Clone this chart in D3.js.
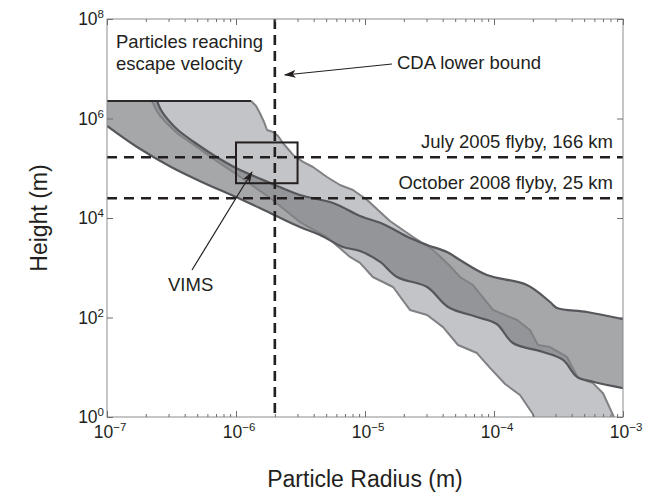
<!DOCTYPE html>
<html>
<head>
<meta charset="utf-8">
<script src="https://cdn.jsdelivr.net/npm/d3@7"></script>
<style>
  body { margin: 0; background: #fff; }
  svg { display: block; }
  text { font-family: "Liberation Sans", Arial, Helvetica, sans-serif; fill: #231f20; }
</style>
</head>
<body>
<svg id="chart" width="646" height="493"></svg>
<script>
// Height reached by a particle of given radius: two model bands (radius in m, height in m)
const escapeHeight = 2.25e6;

const lightUpperRadius = [1.31e-6, 1.43e-6, 1.53e-6, 1.65e-6, 1.74e-6, 1.94e-6, 2.12e-6, 2.31e-6, 2.77e-6, 3.31e-6,
  3.95e-6, 5.07e-6, 6.40e-6, 8.07e-6, 1.04e-5, 1.31e-5, 1.56e-5, 1.87e-5, 2.36e-5, 3.37e-5,
  4.56e-5, 5.45e-5, 6.87e-5, 9.82e-5, 1.51e-4, 1.90e-4, 2.19e-4, 2.72e-4, 3.68e-4, 4.48e-4,
  5.85e-4, 7.0e-4, 8.36e-4, 8.98e-4];
const lightUpperHeight = [2.25e6, 1.78e6, 1.29e6, 8.5e5, 5.87e5, 5.35e5, 4.45e5, 3.22e5, 1.85e5, 1.34e5,
  1.06e5, 6.67e4, 4.61e4, 3.66e4, 2.30e4, 1.32e4, 8.7e3, 6.3e3, 4.15e3, 2.28e3,
  1.08e3, 652, 450, 142, 89, 56, 28, 25.5, 16.1, 6.1,
  4.8, 3.0, 1.1, 0.69];

const lightLowerRadius = [2.23e-7, 2.36e-7, 2.58e-7, 2.92e-7, 3.55e-7, 4.72e-7, 6.87e-7, 1.0e-6, 1.84e-6, 3.13e-6,
  5.07e-6, 7.65e-6, 9.15e-6, 1.15e-5, 1.65e-5, 2.23e-5, 3.03e-5, 4.03e-5, 5.26e-5, 7.38e-5,
  9.31e-5, 1.22e-4, 1.59e-4, 2.0e-4, 2.15e-4];
const lightLowerHeight = [2.25e6, 1.63e6, 1.12e6, 7.9e5, 4.88e5, 2.93e5, 1.47e5, 7.66e4, 2.52e4, 8.3e3,
  4.15e3, 1.65e3, 1.25e3, 652, 410, 142, 112, 64, 28, 19.3,
  9.7, 4.6, 2.77, 1.15, 0.69];

const darkUpperRadius = [2.44e-7, 2.62e-7, 2.97e-7, 3.55e-7, 4.72e-7, 6.87e-7, 1.0e-6, 1.84e-6, 3.13e-6, 5.65e-6,
  9.15e-6, 1.38e-5, 2.23e-5, 3.03e-5, 4.32e-5, 5.45e-5, 8.82e-5, 1.80e-4, 2.72e-4, 3.08e-4,
  5.26e-4, 1.0e-3];
const darkUpperHeight = [2.25e6, 1.48e6, 9.5e5, 5.87e5, 3.37e5, 1.76e5, 1.01e5, 5.06e4, 2.90e4, 2.0e4,
  1.10e4, 7.57e3, 3.96e3, 2.87e3, 2.07e3, 1.43e3, 715, 450, 205, 155,
  129, 93];

const darkLowerRadius = [1.0e-7, 1.71e-7, 3.14e-7, 5.65e-7, 1.0e-6, 1.84e-6, 3.13e-6, 4.48e-6, 6.75e-6, 9.15e-6,
  1.31e-5, 1.77e-5, 3.03e-5, 4.40e-5, 7.38e-5, 1.05e-4, 1.40e-4, 2.40e-4, 3.43e-4, 4.40e-4,
  5.85e-4, 1.0e-3];
const darkLowerHeight = [7.1e5, 2.67e5, 1.06e5, 5.06e4, 2.64e4, 1.26e4, 6.59e3, 4.55e3, 2.61e3, 2.17e3,
  1.31e3, 652, 410, 163, 102, 74, 30.7, 20.3, 14.0, 6.4,
  5.1, 3.8];

// Reference lines and the VIMS window
const cdaRadius = 2e-6;
const flybyHeights = [1.66e5, 2.5e4];
const flybyLabels = ["July 2005 flyby, 166 km", "October 2008 flyby, 25 km"];
const vimsRadius = [1e-6, 3e-6];
const vimsHeight = [5e4, 3.3e5];

// Axis ticks
const xTickExponents = [-7, -6, -5, -4, -3];
const yTickExponents = [0, 2, 4, 6, 8];
const minorMultipliers = [2, 3, 4, 5, 6, 7, 8, 9];

const svg = d3.select("#chart");
const m = { left: 107, right: 623, top: 19, bottom: 417 };

const x = d3.scaleLog().domain([1e-7, 1e-3]).range([m.left, m.right]);
const y = d3.scaleLog().domain([1, 1e8]).range([m.bottom, m.top]);

const zip = (rs, hs) => rs.map((r, i) => [r, hs[i]]);
const lightUpper = zip(lightUpperRadius, lightUpperHeight);
const lightLower = zip(lightLowerRadius, lightLowerHeight);
const darkUpper = zip(darkUpperRadius, darkUpperHeight);
const darkLower = zip(darkLowerRadius, darkLowerHeight);

svg.append("defs").append("clipPath").attr("id", "plotClip")
  .append("rect").attr("x", m.left).attr("y", m.top)
  .attr("width", m.right - m.left).attr("height", m.bottom - m.top);

const plot = svg.append("g").attr("clip-path", "url(#plotClip)");

const jagged = d3.line().x(d => x(d[0])).y(d => y(d[1]));
const smooth = d3.line().x(d => x(d[0])).y(d => y(d[1])).curve(d3.curveCatmullRom.alpha(0.5));
const cont = p => p.replace(/^M/, "L");

// Light band
const lightPath = jagged(lightUpper) + cont(jagged(lightLower.slice().reverse())) + "Z";
plot.append("path").attr("d", lightPath).attr("fill", "rgb(195,196,200)");
plot.append("path").attr("d", jagged(lightUpper)).attr("fill", "none")
  .attr("stroke", "#808184").attr("stroke-width", 2).attr("stroke-linejoin", "round");
plot.append("path").attr("d", jagged(lightLower)).attr("fill", "none")
  .attr("stroke", "#808184").attr("stroke-width", 2).attr("stroke-linejoin", "round");

// Dark band (translucent so the overlap reads darker)
const darkPath = "M" + x(1e-7) + "," + y(escapeHeight) +
  cont(smooth(darkUpper)) +
  "L" + x(1e-3) + "," + y(darkLowerHeight[darkLowerHeight.length - 1]) +
  cont(smooth(darkLower.slice().reverse())) + "Z";
plot.append("path").attr("d", darkPath).attr("fill", "rgb(128,129,133)").attr("fill-opacity", 0.7);
plot.append("path").attr("d", smooth(darkUpper)).attr("fill", "none")
  .attr("stroke", "#56575a").attr("stroke-width", 2.2);
plot.append("path").attr("d", smooth(darkLower)).attr("fill", "none")
  .attr("stroke", "#56575a").attr("stroke-width", 2.2);

// Escape velocity cap
plot.append("line")
  .attr("x1", x(1e-7)).attr("x2", x(lightUpperRadius[0]))
  .attr("y1", y(escapeHeight)).attr("y2", y(escapeHeight))
  .attr("stroke", "#2a2a2c").attr("stroke-width", 2);

// Dashed reference lines
const dashColor = "#231f20";
plot.append("line")
  .attr("x1", x(cdaRadius)).attr("x2", x(cdaRadius))
  .attr("y1", m.top).attr("y2", m.bottom)
  .attr("stroke", dashColor).attr("stroke-width", 2.6).attr("stroke-dasharray", "10,6");
flybyHeights.forEach(h => {
  plot.append("line")
    .attr("x1", m.left).attr("x2", m.right)
    .attr("y1", y(h)).attr("y2", y(h))
    .attr("stroke", dashColor).attr("stroke-width", 2.6).attr("stroke-dasharray", "10,7");
});

// VIMS window
plot.append("rect")
  .attr("x", x(vimsRadius[0])).attr("y", y(vimsHeight[1]))
  .attr("width", x(vimsRadius[1]) - x(vimsRadius[0]))
  .attr("height", y(vimsHeight[0]) - y(vimsHeight[1]))
  .attr("fill", "none").attr("stroke", "#231f20").attr("stroke-width", 2);

// Frame and ticks
const axisColor = "#6d6e71";
svg.append("rect").attr("x", m.left).attr("y", m.top)
  .attr("width", m.right - m.left).attr("height", m.bottom - m.top)
  .attr("fill", "none").attr("stroke", "#8a8b8d").attr("stroke-width", 1);

const xMajor = xTickExponents.map(e => Math.pow(10, e));
const xMinor = [];
xTickExponents.slice(0, -1).forEach(e => minorMultipliers.forEach(k => xMinor.push(k * Math.pow(10, e))));
const yMajor = yTickExponents.map(e => Math.pow(10, e));

function drawAxis(axis, transform) {
  const g = svg.append("g").attr("transform", transform).call(axis);
  g.select(".domain").remove();
  g.selectAll(".tick line").attr("stroke", axisColor);
  g.selectAll(".tick text").remove();
}
drawAxis(d3.axisBottom(x).tickValues(xMajor).tickSize(-6), `translate(0,${m.bottom})`);
drawAxis(d3.axisBottom(x).tickValues(xMinor).tickSize(-3), `translate(0,${m.bottom})`);
drawAxis(d3.axisTop(x).tickValues(xMajor).tickSize(-6), `translate(0,${m.top})`);
drawAxis(d3.axisTop(x).tickValues(xMinor).tickSize(-3), `translate(0,${m.top})`);
drawAxis(d3.axisLeft(y).tickValues(yMajor).tickSize(-6), `translate(${m.left},0)`);
drawAxis(d3.axisRight(y).tickValues(yMajor).tickSize(-6), `translate(${m.right},0)`);

// Power-of-ten tick labels
function powerLabel(sel, exp) {
  sel.append("tspan").text("10").attr("font-size", 17.5);
  sel.append("tspan").text(String(exp).replace("-", "\u2212"))
    .attr("font-size", 11.5).attr("dy", -7);
}
xTickExponents.forEach(e => {
  const t = svg.append("text").attr("x", x(Math.pow(10, e)) + 3).attr("y", 438)
    .attr("text-anchor", "middle");
  powerLabel(t, e);
});
yTickExponents.forEach(e => {
  const t = svg.append("text").attr("x", 104).attr("y", y(Math.pow(10, e)) + 6)
    .attr("text-anchor", "end");
  powerLabel(t, e);
});

// Axis titles
svg.append("text").attr("x", (m.left + m.right) / 2).attr("y", 487)
  .attr("text-anchor", "middle").attr("font-size", 23).text("Particle Radius (m)");
svg.append("text").attr("transform", "translate(47,218) rotate(-90)")
  .attr("text-anchor", "middle").attr("font-size", 23).text("Height (m)");

// Annotations
const noteSize = 18.5;
svg.append("text").attr("x", 116).attr("y", 48).attr("font-size", noteSize).text("Particles reaching");
svg.append("text").attr("x", 116).attr("y", 70).attr("font-size", noteSize).text("escape velocity");
svg.append("text").attr("x", 397).attr("y", 69).attr("font-size", noteSize).text("CDA lower bound");
flybyHeights.forEach((h, i) => {
  svg.append("text").attr("x", 613).attr("y", y(h) - 9)
    .attr("text-anchor", "end").attr("font-size", noteSize).text(flybyLabels[i]);
});
svg.append("text").attr("x", 168).attr("y", 291).attr("font-size", noteSize).text("VIMS");

// Arrows
svg.select("defs").append("marker")
  .attr("id", "arrowHead").attr("viewBox", "0 0 12 8").attr("refX", 11).attr("refY", 4)
  .attr("markerWidth", 12).attr("markerHeight", 8).attr("markerUnits", "userSpaceOnUse")
  .attr("orient", "auto")
  .append("path").attr("d", "M0,0 L12,4 L0,8 L3,4 Z").attr("fill", "#231f20");

function arrow(x1, y1, x2, y2) {
  svg.append("line").attr("x1", x1).attr("y1", y1).attr("x2", x2).attr("y2", y2)
    .attr("stroke", "#231f20").attr("stroke-width", 1.2).attr("marker-end", "url(#arrowHead)");
}
arrow(392, 64, x(cdaRadius) + 10, 75);
arrow(192, 270, 252, 172);
</script>
</body>
</html>
